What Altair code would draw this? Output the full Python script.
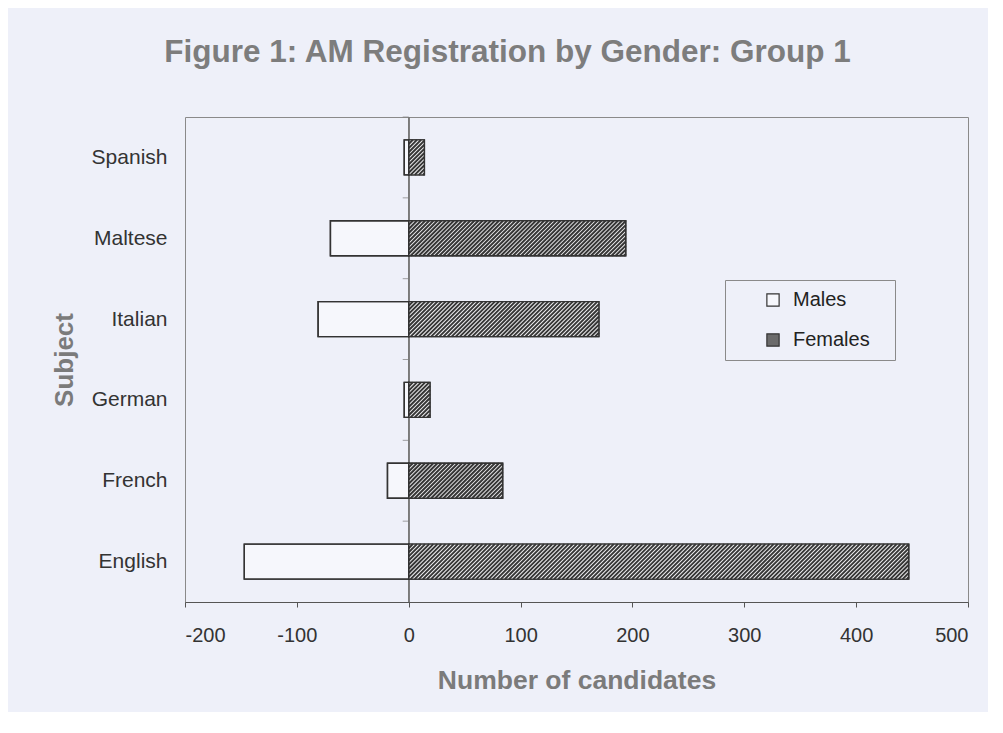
import json
import altair as alt
import pandas as pd

# ---- data ----
subjects = ["English", "French", "German", "Italian", "Maltese", "Spanish"]
males = [147, 19, 4, 81, 70, 4]
females = [447, 84, 19, 170, 194, 14]
genders = ["Males", "Females"]
x_ticks = [-200, -100, 0, 100, 200, 300, 400, 500]

# ---- layout constants ----
W, H = 783, 485
X_MIN, X_MAX = -200, 500
HALF = 0.2165                      # half bar thickness, in category units
PX_PER_UNIT = W / (X_MAX - X_MIN)
BAR_PX = 2 * HALF * H / len(subjects)
HATCH_RUN = BAR_PX / PX_PER_UNIT   # 45 degree stripes
HATCH_GAP = 4.1 / PX_PER_UNIT
BG = "#eef0f9"
FONT = "Liberation Sans"

rows = []
for i, s in enumerate(subjects):
    rows.append({"subject": s, "idx": i, "gender": "Males", "value": males[i]})
    rows.append({"subject": s, "idx": i, "gender": "Females", "value": females[i]})
bars = pd.DataFrame(rows)

# hatch stripes for the female bars, derived from the female values
hatch_rows = []
for i, f in enumerate(females):
    s = -HATCH_RUN
    while s < f:
        t0 = max(0.0, -s / HATCH_RUN)
        t1 = min(1.0, (f - s) / HATCH_RUN)
        if t1 > t0:
            hatch_rows.append({
                "hx1": s + t0 * HATCH_RUN, "hx2": s + t1 * HATCH_RUN,
                "hy1": i - HALF + 2 * HALF * t0, "hy2": i - HALF + 2 * HALF * t1,
            })
        s += HATCH_GAP
hatch = pd.DataFrame(hatch_rows)

bounds = pd.DataFrame({"b": [i + 0.5 for i in range(len(subjects))]})

xscale = alt.Scale(domain=[X_MIN, X_MAX], nice=False, zero=False)
yscale = alt.Scale(domain=[-0.5, len(subjects) - 0.5], nice=False, zero=False)

label_expr = json.dumps(subjects) + "[datum.value]"

base = alt.Chart(bars).transform_calculate(
    signed="datum.gender == 'Males' ? -datum.value : datum.value",
    lo=f"datum.idx - {HALF}",
    hi=f"datum.idx + {HALF}",
)

zero_line = alt.Chart(bars).mark_rule(color="#7a7a7a", strokeWidth=1).encode(
    x=alt.datum(0, scale=xscale)
)

cat_ticks = alt.Chart(bounds).mark_tick(
    orient="horizontal", size=6, thickness=1, xOffset=-3, color="#7a7a7a"
).encode(
    x=alt.datum(0, scale=xscale),
    y=alt.Y("b:Q", scale=yscale),
)

bar_layer = base.mark_rect(stroke="#333333", strokeWidth=1.4).encode(
    x=alt.X("signed:Q", scale=xscale, title="Number of candidates",
            axis=alt.Axis(values=x_ticks, labelExpr="datum.value + ''", grid=False,
                          labelFontSize=20, labelColor="#333333", labelFont=FONT,
                          tickSize=5, tickColor="#555555", domainColor="#555555",
                          labelPadding=18, titlePadding=22,
                          titleFontSize=26.5, titleFontWeight="bold",
                          titleColor="#7b7b7b", titleFont=FONT)),
    x2=alt.datum(0),
    y=alt.Y("lo:Q", scale=yscale, title="Subject",
            axis=alt.Axis(values=list(range(len(subjects))), labelExpr=label_expr,
                          ticks=False, tickSize=0, domain=False, grid=False,
                          labelFontSize=21, labelColor="#333333", labelFont=FONT,
                          labelPadding=18, titlePadding=14,
                          titleFontSize=26, titleFontWeight="bold",
                          titleColor="#7b7b7b", titleFont=FONT)),
    y2="hi:Q",
    color=alt.Color("gender:N",
                    scale=alt.Scale(domain=genders, range=["#f6f7fc", "#6b6b6b"]),
                    legend=alt.Legend(title=None, orient="none", legendX=540, legendY=163,
                                      padding=10, rowPadding=20, symbolOffset=28,
                                      symbolType="square", symbolSize=150,
                                      symbolStrokeColor="#333333", symbolStrokeWidth=1.2,
                                      labelFontSize=20, labelColor="#222222", labelFont=FONT,
                                      labelOffset=10, strokeColor="#8a8a8a", fillColor=BG,
                                      labelExpr="datum.label + '\u2800'")),
)

female_fill = base.transform_filter("datum.gender == 'Females'").mark_rect(
    fill="#f2f2f4", strokeWidth=0
).encode(
    x=alt.X("signed:Q", scale=xscale),
    x2=alt.datum(0),
    y=alt.Y("lo:Q", scale=yscale),
    y2="hi:Q",
)

hatch_layer = alt.Chart(hatch).mark_rule(color="#363636", strokeWidth=2.0).encode(
    x=alt.X("hx1:Q", scale=xscale),
    x2="hx2:Q",
    y=alt.Y("hy1:Q", scale=yscale),
    y2="hy2:Q",
)

outline = base.mark_rect(fillOpacity=0, fill="white", stroke="#333333", strokeWidth=1.4).encode(
    x=alt.X("signed:Q", scale=xscale),
    x2=alt.datum(0),
    y=alt.Y("lo:Q", scale=yscale),
    y2="hi:Q",
)

chart = alt.layer(
    zero_line, cat_ticks, bar_layer, female_fill, hatch_layer, outline
).properties(
    width=W,
    height=H,
    title=alt.Title("Figure 1: AM Registration by Gender: Group 1",
                    fontSize=31.5, fontWeight="bold", color="#7d7d7d", font=FONT,
                    anchor="middle", dx=-69, offset=48),
    padding={"left": 177, "top": 109, "right": 20, "bottom": 110},
    autosize=alt.AutoSizeParams(type="none"),
).configure(
    background=BG, font=FONT
).configure_view(
    stroke="#8a8a8a", strokeWidth=1, fill=BG
)

chart.save("out.html", embed_options={"renderer": "svg", "actions": False})
